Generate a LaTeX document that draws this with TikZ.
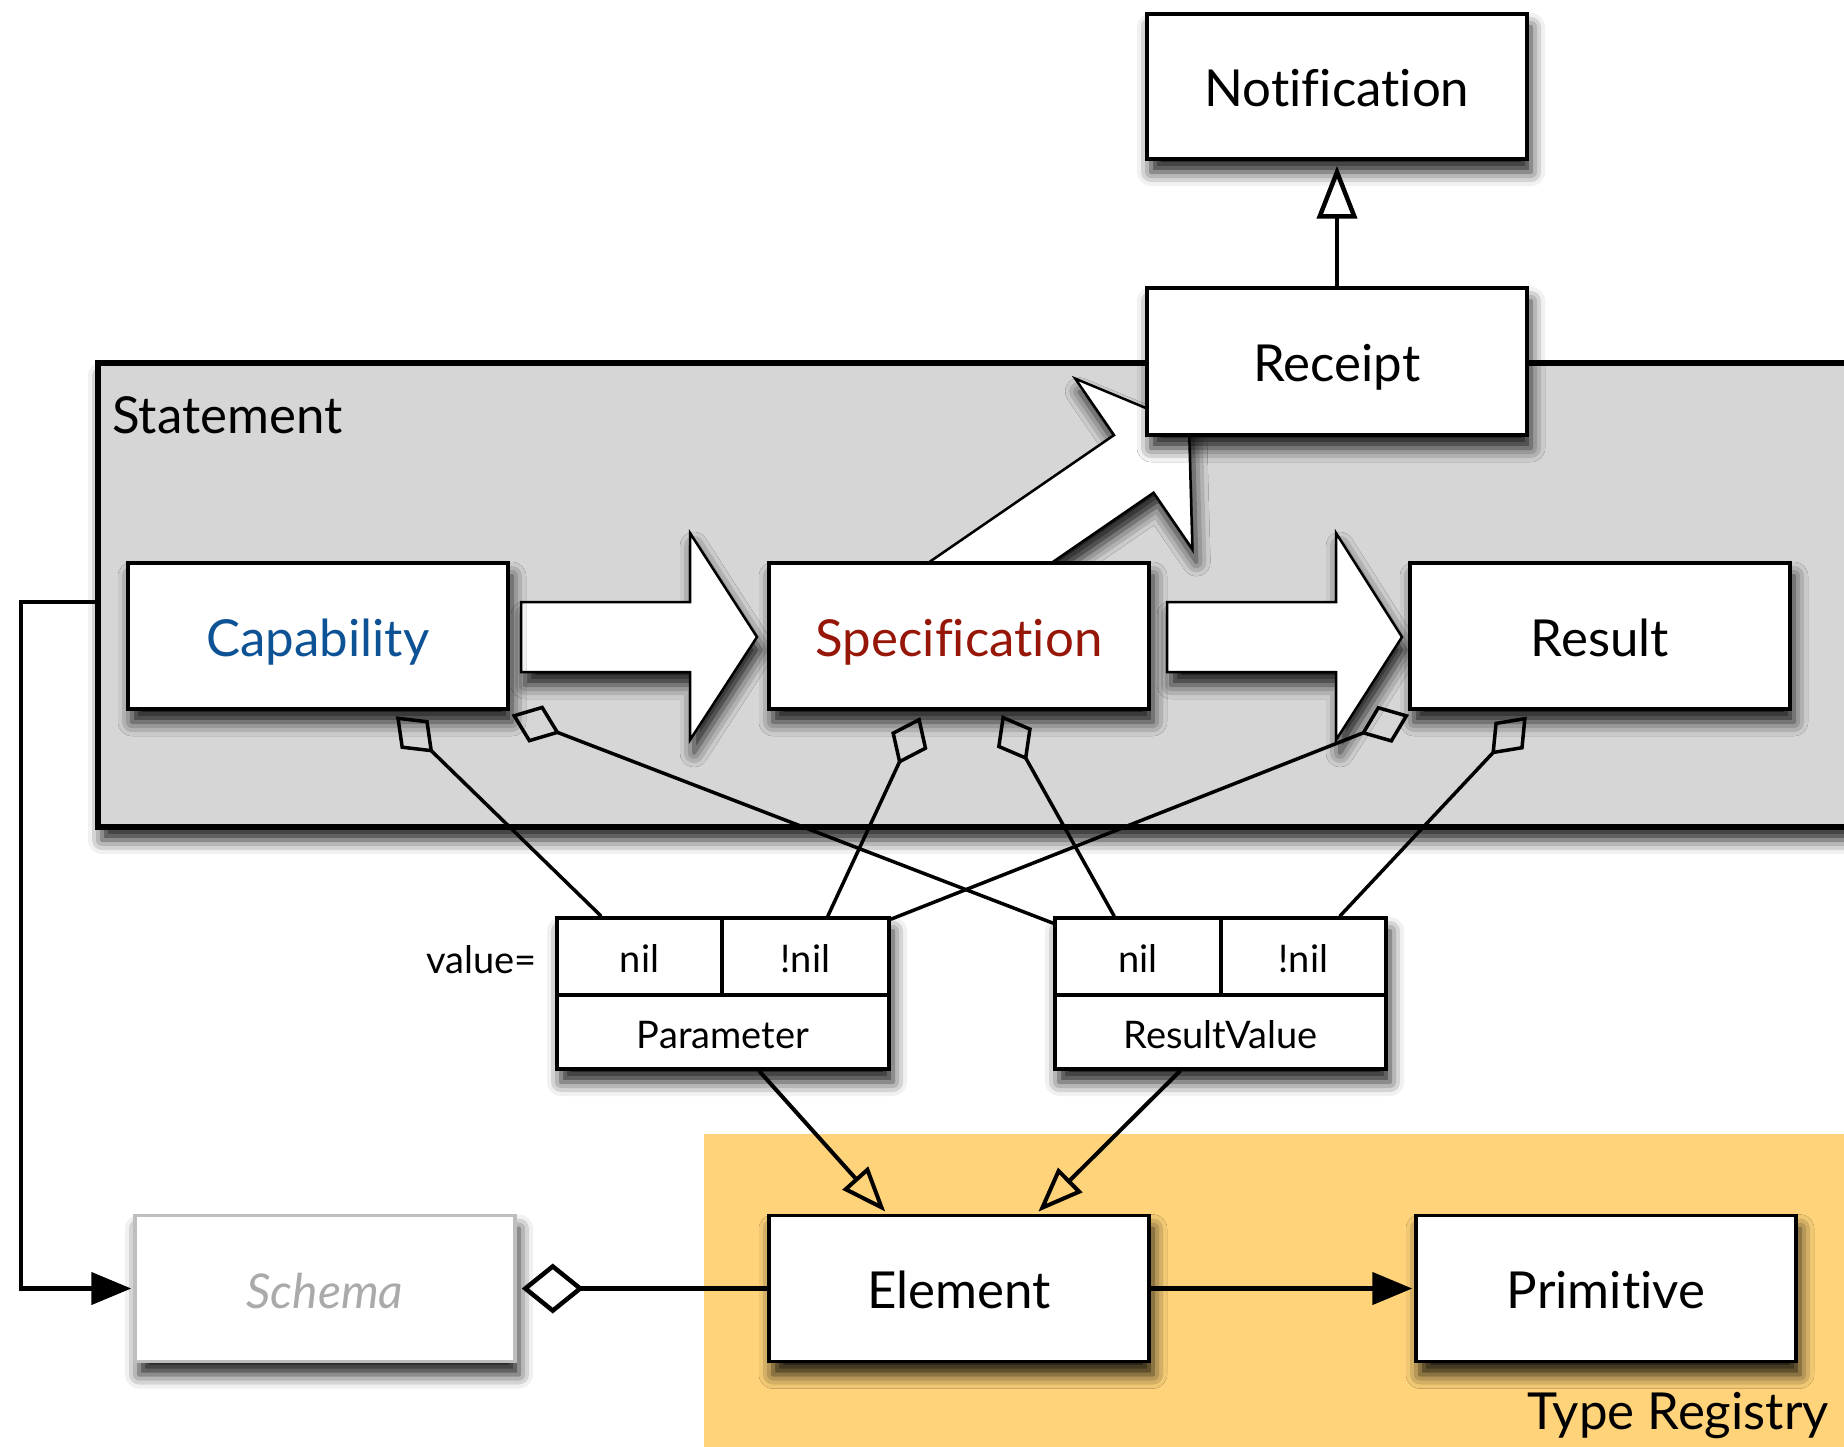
\documentclass[tikz,border=0pt]{standalone}
\usepackage{fontspec}
\setmainfont{Lato}[Ligatures=NoCommon]
\usetikzlibrary{arrows.meta,shadows.blur}

\definecolor{capblue}{RGB}{14,82,150}
\definecolor{specred}{RGB}{150,22,8}
\definecolor{stmtgray}{RGB}{214,214,214}
\definecolor{regyellow}{RGB}{254,211,122}
\definecolor{schematext}{RGB}{170,170,170}
\definecolor{schemaline}{RGB}{190,190,190}

\begin{document}
\begin{tikzpicture}[x=1pt,y=-1pt,
  bigfont/.style={font=\fontsize{51}{60}\selectfont},
  smallfont/.style={font=\fontsize{38}{44}\selectfont},
  softshadow/.style={blur shadow={shadow xshift=4pt, shadow yshift=-13pt,
      shadow blur radius=14pt, shadow opacity=90}},
  classbox/.style={draw, line width=3.5pt, fill=white, minimum width=380pt,
      minimum height=146pt, inner sep=0pt, bigfont, text height=40pt,
      text depth=0pt, softshadow},
  cell/.style={draw, line width=3.5pt, inner sep=0pt, smallfont,
      text height=32pt, text depth=0pt},
  group/.style={draw, line width=3.5pt, fill=white, inner sep=0pt,
      minimum height=151pt, softshadow},
  blockarrow/.style={draw, line width=2.5pt, fill=white, line join=miter, softshadow},
  agg/.style={line width=3.5pt, arrows={Diamond[open,length=52pt,width=40pt]-}},
  gen/.style={line width=4.5pt, arrows={-Triangle[open,length=53pt,width=40pt]}},
  inh/.style={line width=4pt, arrows={-Triangle[open,length=45pt,width=34pt]}},
  assoc/.style={line width=4.5pt, fill opacity=1, draw opacity=1,
      arrows={-Triangle[length=40pt,width=32pt,fill=black]}},
  owner/.style={line width=4.5pt, arrows={Diamond[open,length=62pt,width=50pt]-}},
]
\useasboundingbox (0,0) rectangle (1844,1447);

% type registry area
\node[fill=regyellow, anchor=north west, inner sep=0pt, minimum width=1140pt,
      minimum height=313pt] (registry) at (704,1134) {};
\node[bigfont, anchor=base east, inner sep=0pt] (reglabel) at (1829,1429) {Type Registry};

% statement container
\node[draw, line width=5.5pt, fill=stmtgray, softshadow, inner sep=0pt,
      minimum width=1762pt, minimum height=464pt] (stmt) at (979,595) {};
\node[bigfont, anchor=base west, inner sep=0pt] (stmtlabel) at (112,433) {Statement};

% block arrow from the specification up to the receipt
\path[blockarrow] (1189,426) -- (1192.4,549.2) -- (1153.6,492.7) -- (953.3,630.4)
   -- (913.7,572.8) -- (1114,435.1) -- (1075.2,378.6) -- cycle;

% block arrows along the statement flow
\path[blockarrow] (521,602) -- (690,602) -- (690,533) -- (757,637) -- (690,740)
   -- (690,672) -- (521,672) -- cycle;
\path[blockarrow] (1167,602) -- (1336,602) -- (1336,533) -- (1402,637) -- (1336,740)
   -- (1336,672) -- (1167,672) -- cycle;

% classes
\node[classbox, text=capblue] (cap) at (318,636) {Capability};
\node[classbox, text=specred] (spec) at (959,636) {Specification};
\node[classbox] (res) at (1600,636) {Result};
\node[classbox, minimum height=147pt] (receipt) at (1337,361.5) {Receipt};
\node[classbox, minimum height=145pt] (notif) at (1337,86.5) {Notification};

% parameter
\node[group, minimum width=332pt] (param) at (723,993.5) {};
\node[cell, minimum width=165pt, minimum height=77pt] (pnil) at (639.5,956.5) {nil};
\node[cell, minimum width=167pt, minimum height=77pt] (pset) at (805.5,956.5) {!nil};
\node[cell, minimum width=332pt, minimum height=74pt] (pname) at (723,1032) {Parameter};
\node[smallfont, anchor=base east, inner sep=0pt] (valuelabel) at (537,973) {value=};

% result value
\node[group, minimum width=331pt] (rv) at (1220.5,993.5) {};
\node[cell, minimum width=166pt, minimum height=77pt] (rvnil) at (1138,956.5) {nil};
\node[cell, minimum width=165pt, minimum height=77pt] (rvset) at (1303.5,956.5) {!nil};
\node[cell, minimum width=331pt, minimum height=74pt] (rvname) at (1220.5,1032) {ResultValue};

% type classes
\node[classbox, draw=schemaline, text=schematext, font=\fontsize{48}{56}\selectfont\itshape]
     (schema) at (325,1288.5) {Schema};
\node[classbox] (elem) at (959,1288.5) {Element};
\node[classbox] (prim) at (1606,1288.5) {Primitive};

% aggregations
\draw[agg, shorten <=8pt] ([xshift=264pt]cap.south west) -- ([xshift=46pt]param.north west);
\draw[agg, shorten <=11pt] ([xshift=375pt]cap.south west) -- ([yshift=-7pt]rv.north west);
\draw[agg, shorten <=7pt] ([xshift=156pt]spec.south west) -- ([xshift=-63pt]param.north east);
\draw[agg, shorten <=5pt] ([xshift=232pt]spec.south west) -- ([xshift=61pt]rv.north west);
\draw[agg, shorten <=11pt] ([xshift=11pt]res.south west) -- ([yshift=-3pt]param.north east);
\draw[agg, shorten <=8pt] ([xshift=124pt]res.south west) -- ([xshift=-48pt]rv.north east);

% generalisations
\draw[gen, shorten >=5pt] (receipt.north) -- (notif.south);
\draw[inh, shorten >=3pt] ([xshift=36pt]param.south) -- ([xshift=120pt]elem.north west);
\draw[inh, shorten >=3pt] ([xshift=127pt]rv.south west) -- ([xshift=269pt]elem.north west);

% associations
\draw[assoc, shorten >=2pt] (elem.east) -- (prim.west);
\draw[owner, shorten <=5pt] (schema.east) -- (elem.west);
\coordinate (bend) at (21,602);
\draw[assoc, line join=miter, shorten >=2pt] ([yshift=-7pt]stmt.west) -- (bend) |- (schema.west);
\end{tikzpicture}
\end{document}
